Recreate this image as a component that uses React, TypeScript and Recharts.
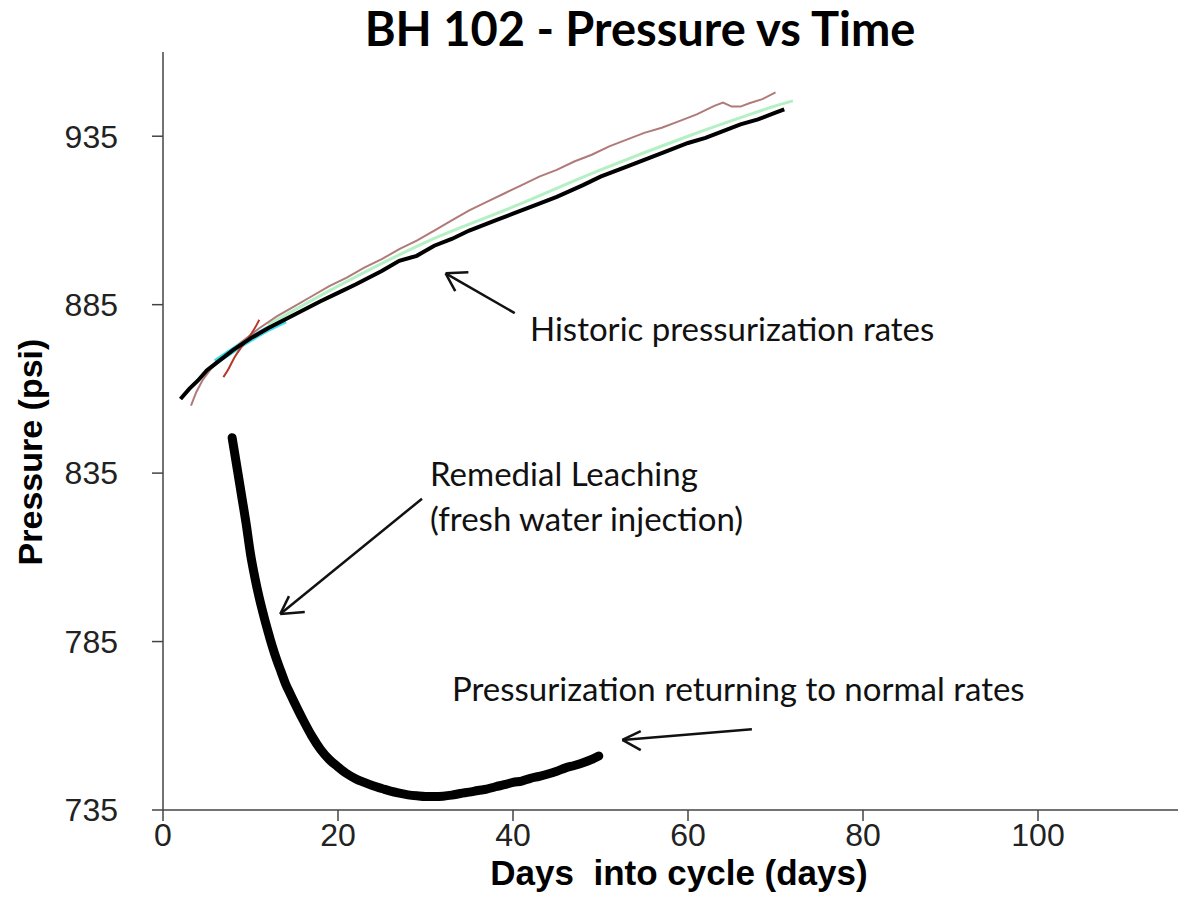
import { LineChart, Line, XAxis, YAxis, ReferenceLine } from "recharts";

// historic runs (days into cycle, psi)
const historicBlack = [
  { day: 2, psi: 857 }, { day: 3, psi: 860 }, { day: 4, psi: 862.5 }, { day: 5, psi: 865.5 },
  { day: 6, psi: 867.5 }, { day: 8, psi: 871.5 }, { day: 10, psi: 875 }, { day: 12, psi: 878 },
  { day: 15, psi: 882 }, { day: 18, psi: 886 }, { day: 20, psi: 888.5 }, { day: 22, psi: 891 },
  { day: 25, psi: 895 }, { day: 27, psi: 898 }, { day: 29, psi: 899.5 }, { day: 31, psi: 902.5 },
  { day: 33, psi: 904.5 }, { day: 35, psi: 907 }, { day: 38, psi: 910 }, { day: 40, psi: 912 },
  { day: 43, psi: 915 }, { day: 45, psi: 917 }, { day: 48, psi: 920.5 }, { day: 50, psi: 923 },
  { day: 53, psi: 926 }, { day: 55, psi: 928 }, { day: 57, psi: 930 }, { day: 60, psi: 933 },
  { day: 62, psi: 934.5 }, { day: 64, psi: 936.5 }, { day: 66, psi: 938.5 }, { day: 68, psi: 940 },
  { day: 70, psi: 942 }, { day: 71, psi: 943 },
];

const historicBrown = [
  { day: 3.2, psi: 855 }, { day: 3.8, psi: 859 }, { day: 4.5, psi: 862.5 }, { day: 5.5, psi: 866 },
  { day: 7, psi: 869.5 }, { day: 9, psi: 874 }, { day: 11, psi: 878 }, { day: 13, psi: 881.5 },
  { day: 15, psi: 884.5 }, { day: 17, psi: 887.5 }, { day: 19, psi: 890.5 }, { day: 21, psi: 893 },
  { day: 23, psi: 896 }, { day: 25, psi: 898.5 }, { day: 27, psi: 901.5 }, { day: 29, psi: 904 },
  { day: 31, psi: 907 }, { day: 33, psi: 910 }, { day: 35, psi: 913 }, { day: 37, psi: 915.5 },
  { day: 39, psi: 918 }, { day: 41, psi: 920.5 }, { day: 43, psi: 923 }, { day: 45, psi: 925 },
  { day: 47, psi: 927.5 }, { day: 49, psi: 929.5 }, { day: 51, psi: 932 }, { day: 53, psi: 934 },
  { day: 55, psi: 936 }, { day: 57, psi: 937.5 }, { day: 59, psi: 939.5 }, { day: 61, psi: 941.5 },
  { day: 63, psi: 944 }, { day: 64, psi: 945 }, { day: 65, psi: 943.8 }, { day: 66, psi: 943.8 },
  { day: 67, psi: 944.8 }, { day: 68.5, psi: 946 }, { day: 70, psi: 948 },
];

const historicRed = [
  { day: 6.9, psi: 863.5 }, { day: 7.5, psi: 866 }, { day: 8.2, psi: 869.5 }, { day: 9, psi: 872.5 },
  { day: 10, psi: 876 }, { day: 10.7, psi: 879 }, { day: 11, psi: 880.5 },
];

const historicCyan = [
  { day: 6, psi: 868 }, { day: 8, psi: 871.5 }, { day: 10, psi: 874.8 }, { day: 12, psi: 877.8 },
  { day: 14, psi: 880.3 },
];

const historicGreen = [
  { day: 12, psi: 879 }, { day: 20, psi: 890.5 }, { day: 30, psi: 903.5 }, { day: 40, psi: 914 },
  { day: 50, psi: 925 }, { day: 60, psi: 935 }, { day: 66, psi: 940.5 }, { day: 70, psi: 944 },
  { day: 72, psi: 945.5 },
];

// current cycle with remedial leaching
const remedial = [
  { day: 7.9, psi: 845.5 }, { day: 8.5, psi: 836 }, { day: 9, psi: 828 }, { day: 9.5, psi: 820 },
  { day: 10, psi: 811 }, { day: 10.5, psi: 804 }, { day: 11, psi: 798 }, { day: 11.5, psi: 792.8 },
  { day: 12, psi: 788 }, { day: 12.5, psi: 783.5 }, { day: 13, psi: 779.5 }, { day: 13.5, psi: 776 },
  { day: 14, psi: 772.5 }, { day: 14.5, psi: 769.7 }, { day: 15, psi: 767 }, { day: 16, psi: 761.8 },
  { day: 17, psi: 757 }, { day: 18, psi: 753 }, { day: 19, psi: 750 }, { day: 20, psi: 747.8 },
  { day: 21, psi: 745.8 }, { day: 22, psi: 744.3 }, { day: 23, psi: 743.2 }, { day: 24, psi: 742.2 },
  { day: 25, psi: 741.4 }, { day: 26, psi: 740.6 }, { day: 27, psi: 740 }, { day: 28, psi: 739.5 },
  { day: 29, psi: 739.2 }, { day: 30, psi: 739 }, { day: 31, psi: 739 }, { day: 32, psi: 739.1 },
  { day: 33, psi: 739.4 }, { day: 34, psi: 739.9 }, { day: 35, psi: 740.3 }, { day: 36, psi: 740.8 },
  { day: 37, psi: 741.2 }, { day: 38, psi: 741.9 }, { day: 39, psi: 742.5 }, { day: 40, psi: 743.2 },
  { day: 41, psi: 743.6 }, { day: 42, psi: 744.4 }, { day: 43, psi: 745 }, { day: 44, psi: 745.7 },
  { day: 45, psi: 746.5 }, { day: 46, psi: 747.5 }, { day: 47, psi: 748.2 }, { day: 48, psi: 749 },
  { day: 49, psi: 750 }, { day: 49.8, psi: 751 },
];

const xTicks = [0, 20, 40, 60, 80, 100];
const yTicks = [735, 785, 835, 885, 935];

// annotation arrows, in data units: tail, tip, two head arms
const arrows = [
  { tail: [40.2, 882.5], tip: [32.3, 894.3], arms: [[34.9, 894.6], [33.4, 889.0]] },
  { tail: [29.6, 827.4], tip: [13.4, 793.2], arms: [[14.4, 798.5], [16.2, 793.8]] },
  { tail: [67.3, 759.0], tip: [52.5, 755.8], arms: [[54.6, 758.4], [54.6, 752.8]] },
];

const notes = [
  { text: "Historic pressurization rates", left: 522, top: 304 },
  { text: "Remedial Leaching", left: 422, top: 449 },
  { text: "(fresh water injection)", left: 422, top: 494 },
  { text: "Pressurization returning to normal rates", left: 444, top: 664 },
];

const tickFont = { fontSize: 32, fontFamily: "'Liberation Sans', Arial, sans-serif", fill: "#222" };

const App = () => {
  return (
    <div style={{ position: "relative", width: 1174, height: 901, background: "#fff" }}>
      <LineChart width={1174} height={900} margin={{ top: 44, right: 4, bottom: 0, left: 0 }}>
        <XAxis
          dataKey="day"
          type="number"
          domain={[0, 116]}
          ticks={xTicks}
          allowDataOverflow
          height={98}
          tickSize={11}
          tickMargin={2}
          tick={tickFont}
          axisLine={{ stroke: "#444", strokeWidth: 1.5 }}
          tickLine={{ stroke: "#444", strokeWidth: 1.5 }}
        />
        <YAxis
          dataKey="psi"
          type="number"
          domain={[735, 960]}
          ticks={yTicks}
          allowDataOverflow
          width={155}
          tickSize={11}
          tickMargin={34}
          tick={tickFont}
          axisLine={{ stroke: "#444", strokeWidth: 1.5 }}
          tickLine={{ stroke: "#444", strokeWidth: 1.5 }}
        />

        <Line data={historicCyan} dataKey="psi" type="monotone" stroke="#3fdcec" strokeWidth={6} dot={false} isAnimationActive={false} />
        <Line data={historicGreen} dataKey="psi" type="monotone" stroke="#b4f0c4" strokeWidth={3} dot={false} isAnimationActive={false} />
        <Line data={historicBrown} dataKey="psi" type="linear" stroke="#b07a78" strokeWidth={2} dot={false} isAnimationActive={false} />
        <Line data={historicRed} dataKey="psi" type="monotone" stroke="#b5372a" strokeWidth={2} dot={false} isAnimationActive={false} />
        <Line data={historicBlack} dataKey="psi" type="linear" stroke="#000" strokeWidth={4} dot={false} isAnimationActive={false} />
        <Line data={remedial} dataKey="psi" type="monotone" stroke="#000" strokeWidth={9} strokeLinecap="round" dot={false} isAnimationActive={false} />

        {arrows.flatMap((a, i) =>
          [[a.tail, a.tip], [a.arms[0], a.tip], [a.arms[1], a.tip]].map((seg, j) => (
            <ReferenceLine
              key={`arrow-${i}-${j}`}
              segment={[{ x: seg[0][0], y: seg[0][1] }, { x: seg[1][0], y: seg[1][1] }]}
              stroke="#111"
              strokeWidth={2.5}
              ifOverflow="visible"
            />
          ))
        )}
      </LineChart>

      <div
        style={{
          position: "absolute", left: 332, top: -3, width: 600, textAlign: "center",
          fontFamily: "Lato, sans-serif", fontWeight: 700, fontSize: 47, lineHeight: 1, color: "#000",
        }}
      >
        BH 102 - Pressure vs Time
      </div>

      {notes.map((n) => (
        <div
          key={n.text}
          style={{
            position: "absolute", left: n.left, top: n.top, whiteSpace: "nowrap",
            fontFamily: "Lato, sans-serif", fontSize: 33, lineHeight: 1, color: "#111",
          }}
        >
          {n.text}
        </div>
      ))}

      <div
        style={{
          position: "absolute", left: 371, top: 853, width: 600, textAlign: "center",
          fontFamily: "'Liberation Sans', Arial, sans-serif", fontWeight: 700, fontSize: 35, lineHeight: "24px",
        }}
      >
        Days&nbsp; into cycle (days)
      </div>

      <div style={{ position: "absolute", left: 22, top: 444, width: 0, height: 0 }}>
        <div
          style={{
            position: "absolute", left: -150, top: -18, width: 300, textAlign: "center",
            transform: "rotate(-90deg)", fontFamily: "'Liberation Sans', Arial, sans-serif",
            fontWeight: 700, fontSize: 34, lineHeight: "36px", whiteSpace: "nowrap",
          }}
        >
          Pressure (psi)
        </div>
      </div>
    </div>
  );
};

export default App;
